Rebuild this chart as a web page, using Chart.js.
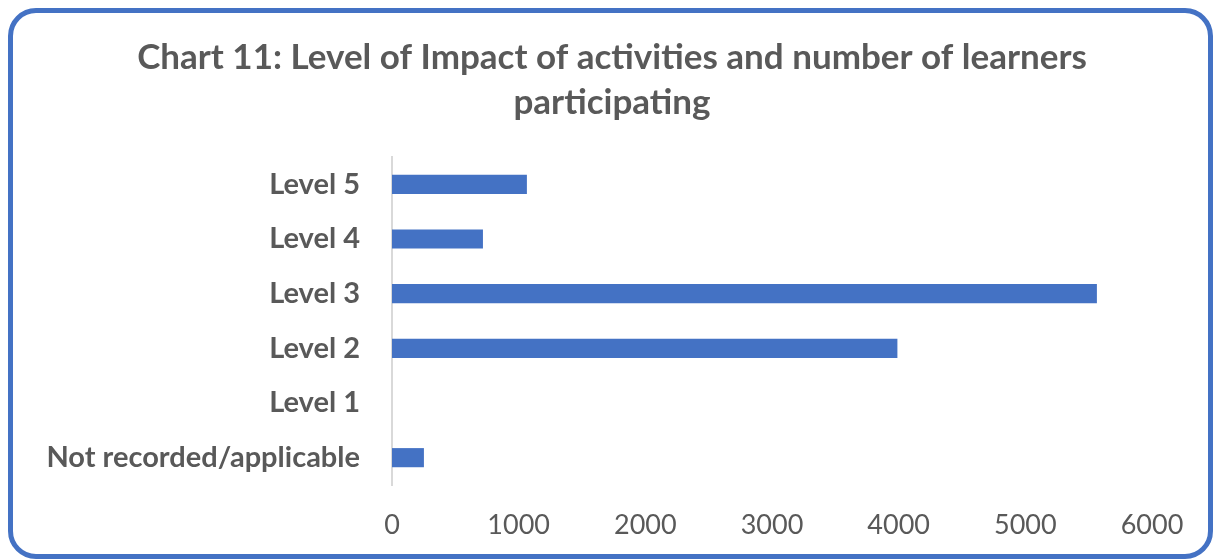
<!DOCTYPE html>
<html>
<head>
<meta charset="utf-8">
<script src="https://cdn.jsdelivr.net/npm/chart.js@4"></script>
<style>
  html, body { margin: 0; padding: 0; background: #fff; overflow: hidden; }
  #moldura {
    position: absolute; left: 8px; top: 8px;
    width: 1195px; height: 541px;
    border: 5px solid #4472C4; border-radius: 28px;
  }
  #caixa { position: absolute; left: 0; top: 0; width: 1214px; height: 559px; }
</style>
</head>
<body>
<div id="moldura"></div>
<div id="caixa"><canvas id="nivelImpacto"></canvas></div>
<script>
// Chart 11 - nivel de impacto x alunos
let niveis = ['Level 5', 'Level 4', 'Level 3', 'Level 2', 'Level 1', 'Not recorded/applicable']
let alunos = [1065, 718, 5565, 3990, 0, 252]
let ticksX = [0, 1000, 2000, 3000, 4000, 5000, 6000]

const cinza = '#595959'
const fonte = 'Lato'

const ctx = document.getElementById('nivelImpacto');

new Chart(ctx, {
  type: 'bar',
  data: {
    labels: niveis,
    datasets: [{
      label: 'Learners',
      data: alunos,
      backgroundColor: '#4472C4',
      barPercentage: 0.7,
      categoryPercentage: 0.5
    }]
  },
  options: {
    indexAxis: 'y',
    responsive: true,
    maintainAspectRatio: false,
    animation: false,
    layout: {
      padding: { top: 0, left: 10, right: 0, bottom: 0 }
    },
    plugins: {
      legend: { display: false },
      tooltip: { enabled: false },
      title: {
        display: true,
        text: ['Chart 11: Level of Impact of activities and number of learners', 'participating'],
        color: cinza,
        font: { family: fonte, size: 35, weight: 'bold', lineHeight: 1.286 },
        padding: { top: 35, bottom: 32 }
      }
    },
    scales: {
      x: {
        min: ticksX[0],
        max: ticksX[ticksX.length - 1],
        afterBuildTicks: (scale) => { scale.ticks = ticksX.map(v => ({ value: v })) },
        grid: { display: false, drawTicks: false },
        border: { display: false },
        ticks: {
          color: cinza,
          padding: 24,
          font: { family: fonte, size: 27 },
          callback: (v) => String(v)
        },
        afterFit: (scale) => { scale.height = 74 }
      },
      y: {
        grid: { display: false, drawTicks: false },
        border: { display: true, color: '#d9d9d9', width: 2 },
        ticks: {
          color: cinza,
          padding: 32,
          font: { family: fonte, size: 29, weight: 'bold' }
        },
        afterFit: (scale) => { scale.width = 382 }
      },
      // eixo vazio na direita, so pra deixar a margem e o titulo centralizado
      margemDireita: {
        type: 'linear',
        position: 'right',
        display: true,
        grid: { display: false },
        border: { display: false },
        ticks: { display: false },
        afterFit: (scale) => { scale.width = 62 }
      }
    }
  }
});
</script>
</body>
</html>
